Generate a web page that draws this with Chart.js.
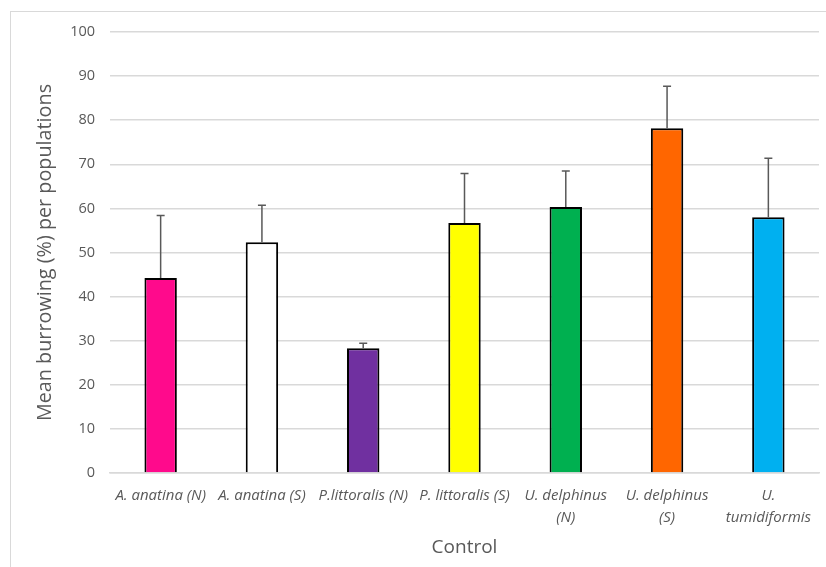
<!DOCTYPE html>
<html lang="en">
<head>
    <meta charset="UTF-8">
    <title>Mean burrowing per population</title>
    <script src="https://cdn.jsdelivr.net/npm/chart.js"></script>
    <style>
        body {
            margin: 0;
            padding: 0;
            background: #ffffff;
            overflow: hidden;
        }
        .frame {
            position: absolute;
            left: 10px;
            top: 11px;
            width: 840px;
            height: 600px;
            border: 1px solid #d9d9d9;
        }
        .chart-box {
            position: absolute;
            left: 0;
            top: 0;
            width: 826px;
            height: 567px;
        }
    </style>
</head>
<body>
    <div class="frame"></div>
    <div class="chart-box">
        <canvas id="chart" width="826" height="567"></canvas>
    </div>

    <script>
        const categories = [
            'A. anatina (N)',
            'A. anatina (S)',
            'P.littoralis (N)',
            'P. littoralis (S)',
            ['U. delphinus', '(N)'],
            ['U. delphinus', '(S)'],
            ['U.', 'tumidiformis']
        ];
        const means = [44.2, 52.3, 28.3, 56.7, 60.3, 78.2, 58.0];
        const errors = [14.2, 8.4, 1.1, 11.2, 8.2, 9.5, 13.4];
        const barColors = ['#ff0a8c', '#ffffff', '#7030a0', '#ffff00', '#00b050', '#ff6600', '#00b0f0'];
        const yTicks = [0, 10, 20, 30, 40, 50, 60, 70, 80, 90, 100];

        const textGray = '#595959';
        const gridGray = '#d9d9d9';

        // upper error bars only, like the Excel original
        const errorBars = {
            id: 'errorBars',
            afterDatasetsDraw(chart) {
                const ctx = chart.ctx;
                const meta = chart.getDatasetMeta(0);
                const y = chart.scales.y;
                ctx.save();
                ctx.strokeStyle = textGray;
                ctx.lineWidth = 1.5;
                meta.data.forEach((bar, i) => {
                    const top = y.getPixelForValue(means[i] + errors[i]);
                    ctx.beginPath();
                    ctx.moveTo(bar.x, bar.y);
                    ctx.lineTo(bar.x, top);
                    ctx.moveTo(bar.x - 4, top);
                    ctx.lineTo(bar.x + 4, top);
                    ctx.stroke();
                });
                ctx.restore();
            }
        };

        const ctx = document.getElementById('chart').getContext('2d');
        const chart = new Chart(ctx, {
            type: 'bar',
            data: {
                labels: categories,
                datasets: [{
                    data: means,
                    backgroundColor: barColors,
                    borderColor: '#000000',
                    borderWidth: 2,
                    borderSkipped: 'bottom',
                    barPercentage: 0.5,
                    categoryPercentage: 0.64
                }]
            },
            options: {
                responsive: false,
                animation: false,
                layout: {
                    padding: { left: 28, right: 7, top: 32, bottom: 8 }
                },
                plugins: {
                    legend: { display: false },
                    tooltip: { enabled: false }
                },
                scales: {
                    x: {
                        grid: { display: false, drawTicks: false },
                        border: { color: gridGray, width: 1.5 },
                        ticks: {
                            color: textGray,
                            padding: 12,
                            maxRotation: 0,
                            autoSkip: false,
                            font: { family: 'Open Sans', size: 15, style: 'italic', lineHeight: 1.45 }
                        },
                        title: {
                            display: true,
                            text: 'Control',
                            color: textGray,
                            padding: { top: 6, bottom: 0 },
                            font: { family: 'Open Sans', size: 19 }
                        },
                        afterFit(scale) { scale.height = 86; }
                    },
                    y: {
                        min: 0,
                        max: 100,
                        afterBuildTicks(scale) {
                            scale.ticks = yTicks.map(v => ({ value: v }));
                        },
                        grid: { color: gridGray, lineWidth: 1.5, drawTicks: false },
                        border: { display: false },
                        ticks: {
                            color: textGray,
                            padding: 15,
                            font: { family: 'Open Sans', size: 14.5 }
                        },
                        title: {
                            display: true,
                            text: 'Mean burrowing (%) per populations',
                            color: textGray,
                            padding: { top: 5, bottom: 4 },
                            font: { family: 'Open Sans', size: 19.8 }
                        },
                        afterFit(scale) { scale.width = 82; }
                    }
                }
            },
            plugins: [errorBars]
        });
    </script>
</body>
</html>
